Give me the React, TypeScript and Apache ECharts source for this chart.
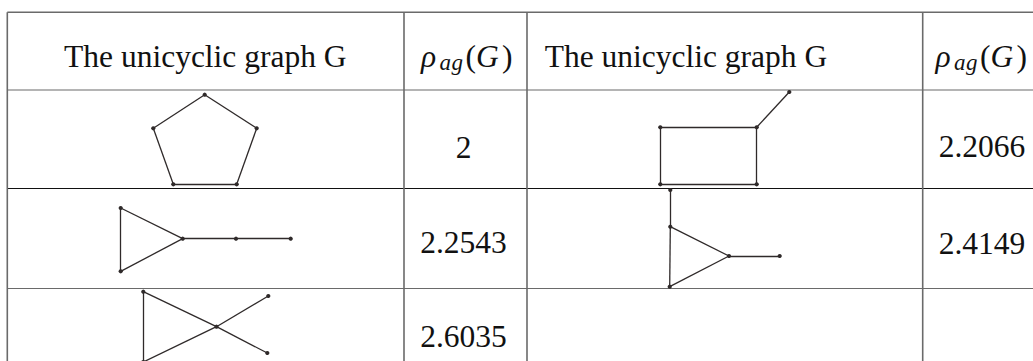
import React, { useEffect, useRef } from "react";
import * as echarts from "echarts";

// ---- Data ----
const headerGraph = "The unicyclic graph G";
const rhoValues = ["2", "2.2066", "2.2543", "2.4149", "2.6035"];

// Graph vertices (chart coordinates) and edges (index pairs)
const g1Nodes = [[204.7, 94.7], [256.7, 128.3], [236.7, 184.3], [173.3, 184.3], [153.3, 128.3]];
const g1Edges = [[0, 1], [1, 2], [2, 3], [3, 4], [4, 0]];

const g2Nodes = [[660.3, 127.3], [756.7, 127.3], [756.7, 184.3], [660.3, 184.3], [789.3, 92]];
const g2Edges = [[0, 1], [1, 2], [2, 3], [3, 0], [1, 4]];

const g3Nodes = [[120.7, 208], [182.7, 238.7], [120.7, 271.3], [236, 238.7], [290.7, 238.7]];
const g3Edges = [[0, 1], [1, 2], [2, 0], [1, 3], [3, 4]];

const g4Nodes = [[670.3, 190], [670.3, 226.7], [729, 256], [669.7, 286.7], [779.7, 256]];
const g4Edges = [[0, 1], [1, 2], [2, 3], [3, 1], [2, 4]];

const g5Nodes = [[143.3, 291.7], [216.5, 326.7], [143.3, 362], [268.3, 296], [267.3, 353]];
const g5Edges = [[0, 1], [1, 2], [2, 0], [1, 3], [1, 4]];

const graphs = [
  { nodes: g1Nodes, edges: g1Edges },
  { nodes: g2Nodes, edges: g2Edges },
  { nodes: g3Nodes, edges: g3Edges },
  { nodes: g4Nodes, edges: g4Edges },
  { nodes: g5Nodes, edges: g5Edges },
];

const W = 1033;
const H = 361;
const FONT = "Liberation Serif";
const FS = 31.5;
const GREY = "#6a6a6a";
const INK = "#2f2a2a";

function App() {
  const ref = useRef<HTMLDivElement>(null);

  useEffect(() => {
    if (!ref.current) return;
    const chart = echarts.init(ref.current, null, { renderer: "svg" });

    // Table layout
    const xL = 7.3, xC1 = 404, xC2 = 527, xC3 = 922.7, xR = 1045;
    const yT = 12.3, yH = 90, yR1 = 188.5, yR2 = 288.5, yB = 400;

    const line = (x1: number, y1: number, x2: number, y2: number, color: string, w: number) => ({
      type: "line",
      shape: { x1, y1, x2, y2 },
      style: { stroke: color, lineWidth: w },
      silent: true,
      z: 1,
    });

    const text = (t: string, x: number, y: number, align: string, italic = false, size = FS) => ({
      type: "text",
      x,
      y,
      silent: true,
      z: 5,
      style: {
        text: t,
        fill: "#111",
        fontFamily: FONT,
        fontSize: size,
        fontStyle: italic ? "italic" : "normal",
        align,
        verticalAlign: "middle",
      },
    });

    const rho = (x0: number, yMid: number) => [
      text("ρ", x0, yMid, "left", true),
      text("a", x0 + 18.5, yMid + 6, "left", true, 23),
      text("g", x0 + 30.5, yMid + 6, "left", true, 23),
      text("(", x0 + 44.5, yMid, "left"),
      text("G", x0 + 55, yMid, "left", true),
      text(")", x0 + 81, yMid, "left"),
    ];

    const headerMid = 56;
    const graphic: any[] = [
      line(xL, yT, xR, yT, GREY, 1.6),
      line(xL, yH, xR, yH, GREY, 1.2),
      line(xL, yR1, xR, yR1, "#111", 1.1),
      line(xL, yR2, xR, yR2, GREY, 1.2),
      line(xL, yT, xL, yB, GREY, 1.6),
      line(xC1, yT, xC1, yB, GREY, 1.6),
      line(xC2, yT, xC2, yB, GREY, 1.6),
      line(xC3, yT, xC3, yB, GREY, 1.6),
      text(headerGraph, 205.3, headerMid, "center"),
      text(headerGraph, 544.7, headerMid, "left"),
      ...rho(421, headerMid),
      ...rho(935.5, headerMid),
      text(rhoValues[0], 463.5, 147, "center"),
      text(rhoValues[1], 982, 146.5, "center"),
      text(rhoValues[2], 463.5, 242, "center"),
      text(rhoValues[3], 982, 243.4, "center"),
      text(rhoValues[4], 463.5, 336, "center"),
    ];

    const series = graphs.map((g, gi) => ({
      type: "graph",
      name: "G" + (gi + 1),
      coordinateSystem: "cartesian2d",
      layout: "none",
      silent: true,
      symbol: "circle",
      symbolSize: 4.2,
      itemStyle: { color: INK },
      label: { show: false },
      lineStyle: { color: INK, width: 1.3, opacity: 1, curveness: 0 },
      emphasis: { disabled: true },
      data: g.nodes.map((p) => ({ value: p })),
      links: g.edges.map((e) => ({ source: e[0], target: e[1] })),
      z: 3,
    }));

    chart.setOption({
      animation: false,
      backgroundColor: "#ffffff",
      grid: { left: 0, right: 0, top: 0, bottom: 0 },
      xAxis: { type: "value", min: 0, max: W, show: false },
      yAxis: { type: "value", min: 0, max: H, inverse: true, show: false },
      graphic,
      series,
    });

    return () => chart.dispose();
  }, []);

  return (
    <div
      ref={ref}
      style={{ position: "fixed", left: 0, top: 0, width: W, height: H, background: "#fff" }}
    />
  );
}

export default App;
